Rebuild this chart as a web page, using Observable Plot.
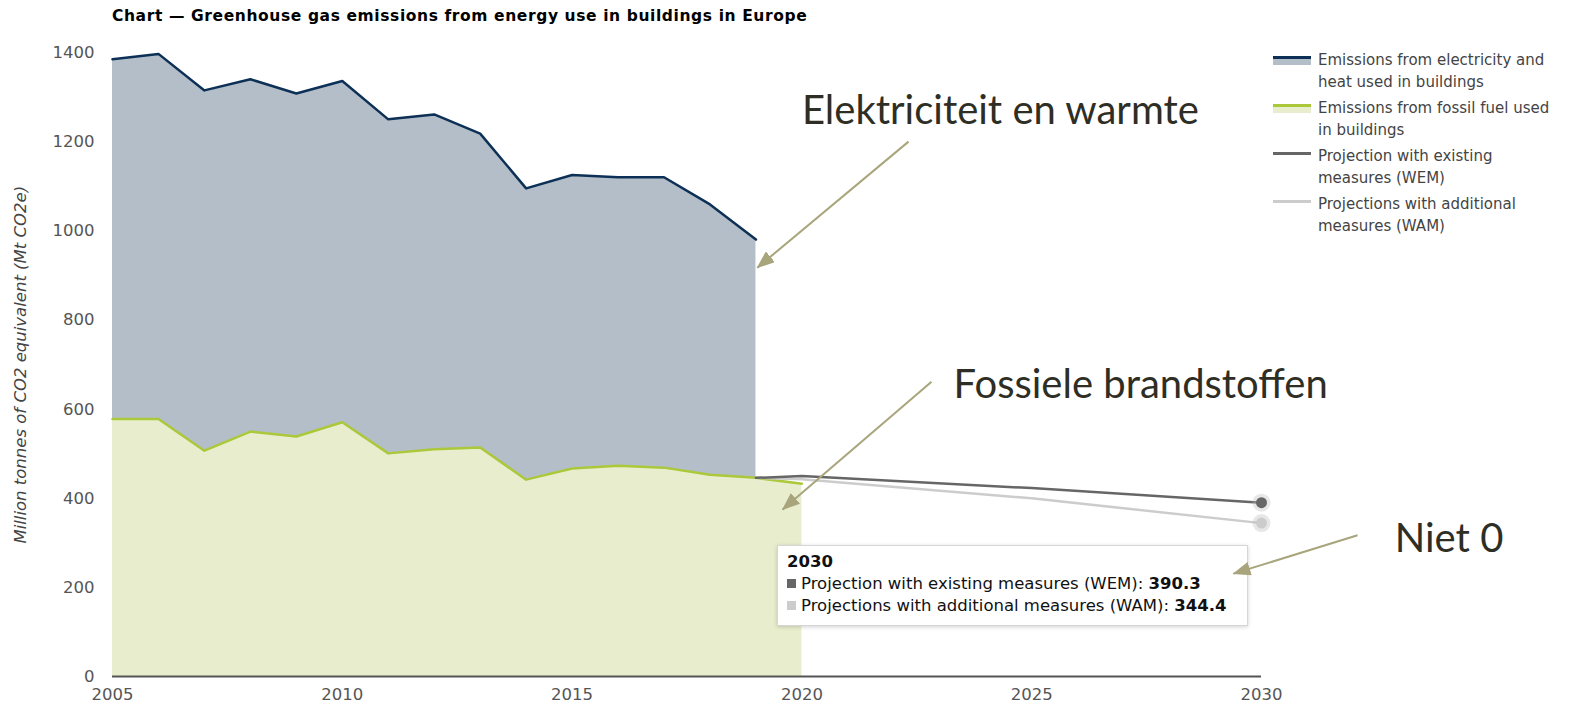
<!DOCTYPE html>
<html>
<head>
<meta charset="utf-8">
<script src="https://cdn.jsdelivr.net/npm/d3@7"></script>
<script src="https://cdn.jsdelivr.net/npm/@observablehq/plot@0.6"></script>
<style>
  html, body { margin: 0; padding: 0; background: #fff; }
  #page { position: relative; width: 1582px; height: 703px; font-family: "DejaVu Sans", Verdana, sans-serif; overflow: hidden; }
  #title { position: absolute; left: 112px; top: 7px; font-size: 15.5px; letter-spacing: 0.6px; font-weight: bold; color: #000; white-space: nowrap; }
  #chart { position: absolute; left: 0; top: 35px; }
  #overlay { position: absolute; left: 0; top: 35px; pointer-events: none; }
  #legend { position: absolute; left: 1273px; top: 50px; font-size: 15px; color: #444; }
  .li { position: relative; padding-left: 45px; line-height: 21.5px; margin-bottom: 5px; width: 248px; }
  .sw { position: absolute; left: 0; top: 7px; width: 38px; height: 8px; }
  #tip { position: absolute; left: 777px; top: 545px; width: 471px; height: 81px; background: #fff; border: 1px solid #d6d6d6; box-shadow: 0 1px 4px rgba(0,0,0,0.18); font-size: 16.5px; color: #111; box-sizing: border-box; padding: 5px 9px; line-height: 22px; }
  #tip .sq { display: inline-block; width: 9px; height: 9px; margin-right: 5px; vertical-align: 1px; }
</style>
</head>
<body>
<div id="page">
  <div id="title">Chart — Greenhouse gas emissions from energy use in buildings in Europe</div>
  <div id="chart"></div>
  <div id="legend"></div>
  <div id="tip"></div>
  <div id="overlay"></div>
</div>
<script>
// ---- data ----
const histYears = [2005,2006,2007,2008,2009,2010,2011,2012,2013,2014,2015,2016,2017,2018,2019,2020];
const fossil = [578,578,507,550,539,571,501,510,514,442,467,473,469,453,446,433];
const elecYears = [2005,2006,2007,2008,2009,2010,2011,2012,2013,2014,2015,2016,2017,2018,2019];
const electricity = [808,820,809,791,770,766,750,752,705,654,659,648,652,607,535];
const projYears = [2019,2020,2025,2030];
const wem = [446,450,423,390.3];
const wam = [446,443,400,344.4];
const yTicks = [0,200,400,600,800,1000,1200,1400];
const xTicks = [2005,2010,2015,2020,2025,2030];
const seriesNames = [
  "Emissions from electricity and heat used in buildings",
  "Emissions from fossil fuel used in buildings",
  "Projection with existing measures (WEM)",
  "Projections with additional measures (WAM)"
];
const annotations = [
  {label: "Elektriciteit en warmte", x: 2020.0, y: 1239, ax1: 2022.32, ay1: 1201, ax2: 2019.03, ay2: 918},
  {label: "Fossiele brandstoffen", x: 2023.3, y: 623, ax1: 2022.82, ay1: 662, ax2: 2019.58, ay2: 375},
  {label: "Niet 0", x: 2032.9, y: 278, ax1: 2032.09, ay1: 317, ax2: 2029.39, ay2: 231}
];
const tipYear = 2030;

// ---- styles ----
const C = {
  elecFill: "#b4bec9", elecLine: "#0c3056",
  fosFill: "#e8eecd", fosLine: "#abc83a",
  wem: "#666666", wam: "#cccccc",
  arrow: "#a8a57c", annot: "#2e2e25"
};

const fosData = histYears.map((d, i) => ({year: d, v: fossil[i]}));
const elecData = elecYears.map((d, i) => ({year: d, lo: fossil[i], hi: fossil[i] + electricity[i]}));
const wemData = projYears.map((d, i) => ({year: d, v: wem[i]}));
const wamData = projYears.map((d, i) => ({year: d, v: wam[i]}));
const endWem = wemData[wemData.length - 1];
const endWam = wamData[wamData.length - 1];

const W = 1582, H = 668;
const frame = {
  width: W, height: H,
  marginLeft: 112, marginRight: 321, marginTop: 17.5, marginBottom: 27
};
const xScale = {domain: [2005, 2030], ticks: xTicks, tickFormat: d => String(d), tickSize: 0, tickPadding: 12, label: null};
const yScale = {domain: [0, 1400], ticks: yTicks, tickFormat: d => String(d), tickSize: 0, tickPadding: 18, label: null};

const plot = Plot.plot({
  ...frame,
  style: {fontFamily: "DejaVu Sans, Verdana, sans-serif", fontSize: "16.5px", color: "#555", background: "#fff", overflow: "visible"},
  x: xScale,
  y: yScale,
  marks: [
    Plot.areaY(elecData, {x: "year", y1: "lo", y2: "hi", fill: C.elecFill}),
    Plot.areaY(fosData, {x: "year", y1: 0, y2: "v", fill: C.fosFill}),
    Plot.lineY(elecData, {x: "year", y: "hi", stroke: C.elecLine, strokeWidth: 2.5}),
    Plot.lineY(fosData, {x: "year", y: "v", stroke: C.fosLine, strokeWidth: 2.5}),
    Plot.lineY(wamData, {x: "year", y: "v", stroke: C.wam, strokeWidth: 2.5}),
    Plot.lineY(wemData, {x: "year", y: "v", stroke: C.wem, strokeWidth: 2.5}),
    Plot.ruleY([0], {stroke: "#555", strokeWidth: 2}),
    Plot.dot([endWem, endWam], {x: "year", y: "v", r: 9, fill: "#bbb", fillOpacity: 0.35}),
    Plot.dot([endWem], {x: "year", y: "v", r: 5.5, fill: C.wem}),
    Plot.dot([endWam], {x: "year", y: "v", r: 5.5, fill: C.wam}),
    Plot.text(["Million tonnes of CO2 equivalent (Mt CO2e)"], {frameAnchor: "left", dx: -92, rotate: -90, fontStyle: "italic", fill: "#444", fontSize: 16.5, textAnchor: "middle"})
  ]
});
document.getElementById("chart").appendChild(plot);

// annotation layer (same scales, drawn above the tooltip)
const over = Plot.plot({
  ...frame,
  style: {fontFamily: "DejaVu Sans, Verdana, sans-serif", background: "transparent", overflow: "visible"},
  x: {...xScale, axis: null},
  y: {...yScale, axis: null},
  marks: [
    Plot.link(annotations, {x1: "ax1", y1: "ay1", x2: "ax2", y2: "ay2", stroke: C.arrow, strokeWidth: 2}),
    Plot.text(annotations, {x: "x", y: "y", text: "label", textAnchor: "start", lineAnchor: "bottom", fontSize: 40, fontFamily: "Lato, sans-serif", fill: C.annot, dy: -1})
  ]
});
const svg = d3.select(over);
const defs = svg.insert("defs", ":first-child");
defs.append("marker").attr("id", "ah").attr("viewBox", "0 0 18 14").attr("refX", 17).attr("refY", 7)
  .attr("markerWidth", 18).attr("markerHeight", 14).attr("markerUnits", "userSpaceOnUse").attr("orient", "auto")
  .append("path").attr("d", "M0,0 L18,7 L0,14 z").attr("fill", C.arrow);
svg.selectAll(`g[stroke="${C.arrow}"] path`).attr("marker-end", "url(#ah)");
document.getElementById("overlay").appendChild(over);

// legend
const legend = document.getElementById("legend");
const swatches = [
  `<div class="sw" style="background:${C.elecFill};border-top:3px solid ${C.elecLine};height:6px;top:6px"></div>`,
  `<div class="sw" style="background:${C.fosFill};border-top:3px solid ${C.fosLine};height:6px;top:6px"></div>`,
  `<div class="sw" style="border-top:3px solid ${C.wem};height:0;top:6px"></div>`,
  `<div class="sw" style="border-top:3px solid ${C.wam};height:0;top:6px"></div>`
];
seriesNames.forEach((n, i) => {
  const d = document.createElement("div");
  d.className = "li";
  d.innerHTML = swatches[i] + n;
  legend.appendChild(d);
});

// tooltip
document.getElementById("tip").innerHTML =
  `<div style="font-weight:bold">${tipYear}</div>` +
  `<div><span class="sq" style="background:${C.wem}"></span>${seriesNames[2]}: <b>${endWem.v}</b></div>` +
  `<div><span class="sq" style="background:${C.wam}"></span>${seriesNames[3]}: <b>${endWam.v}</b></div>`;
</script>
</body>
</html>
